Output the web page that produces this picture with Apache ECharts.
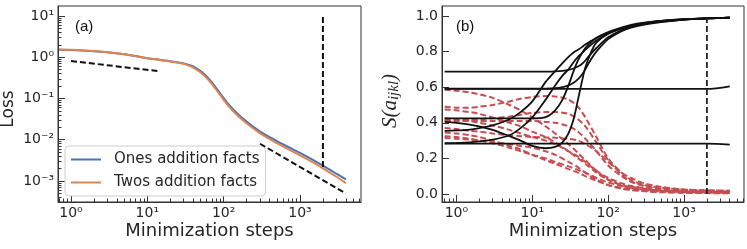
<!DOCTYPE html>
<html><head><meta charset="utf-8">
<script src="https://cdn.jsdelivr.net/npm/echarts@6/dist/echarts.min.js"></script>
<style>html,body{margin:0;padding:0;background:#fff}#c{width:747px;height:249px}</style>
</head><body><div id="c"></div>
<script>
// ---------- data (a) ----------
const lossSteps = [0.7, 1, 2, 3, 5, 7, 10, 15, 20, 30, 40, 50, 60, 70, 80, 90, 100, 120, 150, 200, 300, 500, 700, 1000, 1500, 2000, 3000, 4000];
const onesLoss  = [1.52, 1.5, 1.4, 1.32, 1.18, 1.07, 0.95, 0.86, 0.8, 0.71, 0.6, 0.46, 0.34, 0.245, 0.178, 0.133, 0.102, 0.067, 0.044, 0.0275, 0.0158, 0.0093, 0.0067, 0.0048, 0.0032, 0.00235, 0.0015, 0.0011];
const twosLoss  = [1.54, 1.51, 1.41, 1.32, 1.18, 1.06, 0.94, 0.85, 0.79, 0.69, 0.56, 0.425, 0.313, 0.225, 0.163, 0.122, 0.093, 0.061, 0.04, 0.025, 0.0143, 0.0083, 0.0059, 0.0042, 0.0028, 0.00203, 0.00127, 0.00089];
const refEarlySteps = [1, 14];
const refEarlyLoss  = [0.81, 0.46];
const refLateSteps  = [300, 4000];
const refLateLoss   = [0.008, 0.0005];
const markerStep = 2000;
const markerLossRange = [0.0022, 10];

// ---------- data (b) ----------
const blackSteps = [0.7, 1, 1.5, 2, 3, 5, 7, 10, 15, 20, 25, 30, 35, 40, 45, 50, 60, 70, 100, 150, 200, 300, 500, 1000, 2000, 4000];
const blackA = [0.355, 0.357, 0.362, 0.37, 0.385, 0.42, 0.46, 0.52, 0.63, 0.69, 0.735, 0.77, 0.795, 0.81, 0.825, 0.84, 0.86, 0.878, 0.91, 0.935, 0.95, 0.962, 0.972, 0.981, 0.986, 0.99];
const blackB = [0.285, 0.287, 0.29, 0.295, 0.305, 0.33, 0.37, 0.43, 0.53, 0.61, 0.665, 0.7, 0.74, 0.77, 0.79, 0.81, 0.84, 0.862, 0.9, 0.93, 0.945, 0.96, 0.97, 0.98, 0.986, 0.99];
const blackC = [0.425, 0.425, 0.425, 0.425, 0.425, 0.425, 0.425, 0.425, 0.432, 0.47, 0.53, 0.61, 0.69, 0.75, 0.79, 0.82, 0.855, 0.875, 0.905, 0.93, 0.945, 0.96, 0.972, 0.982, 0.987, 0.99];
const blackD = [0.405, 0.4, 0.39, 0.38, 0.36, 0.325, 0.3, 0.27, 0.257, 0.265, 0.29, 0.34, 0.42, 0.53, 0.63, 0.71, 0.8, 0.85, 0.9, 0.93, 0.945, 0.96, 0.972, 0.982, 0.987, 0.99];
const blackE = [0.687, 0.687, 0.687, 0.687, 0.687, 0.687, 0.687, 0.687, 0.687, 0.689, 0.692, 0.697, 0.705, 0.716, 0.73, 0.75, 0.79, 0.82, 0.88, 0.92, 0.94, 0.955, 0.968, 0.98, 0.986, 0.99];
const blackF = [0.592, 0.592, 0.592, 0.592, 0.592, 0.592, 0.592, 0.592, 0.592, 0.594, 0.6, 0.61, 0.625, 0.645, 0.67, 0.7, 0.76, 0.8, 0.87, 0.915, 0.935, 0.952, 0.966, 0.98, 0.986, 0.99];
const blackG = [0.59, 0.59, 0.59, 0.59, 0.59, 0.59, 0.59, 0.59, 0.59, 0.59, 0.59, 0.59, 0.59, 0.59, 0.59, 0.59, 0.59, 0.59, 0.59, 0.59, 0.59, 0.59, 0.59, 0.59, 0.59, 0.605];
const blackH = [0.283, 0.283, 0.283, 0.283, 0.283, 0.283, 0.283, 0.283, 0.283, 0.283, 0.283, 0.283, 0.283, 0.283, 0.283, 0.283, 0.283, 0.283, 0.283, 0.283, 0.283, 0.283, 0.283, 0.283, 0.283, 0.277];
const redSteps = [0.7, 1, 1.5, 2, 3, 5, 7, 10, 15, 20, 30, 40, 50, 70, 100, 150, 200, 300, 500, 1000, 2000, 4000];
const red1  = [0.585, 0.58, 0.57, 0.56, 0.54, 0.5, 0.47, 0.43, 0.38, 0.34, 0.28, 0.23, 0.19, 0.13, 0.08, 0.05, 0.035, 0.025, 0.018, 0.012, 0.01, 0.008];
const red2  = [0.49, 0.485, 0.485, 0.49, 0.5, 0.52, 0.535, 0.545, 0.55, 0.548, 0.53, 0.49, 0.43, 0.32, 0.2, 0.12, 0.08, 0.05, 0.035, 0.025, 0.02, 0.018];
const red3  = [0.475, 0.47, 0.46, 0.45, 0.43, 0.4, 0.38, 0.35, 0.32, 0.29, 0.24, 0.2, 0.17, 0.12, 0.08, 0.05, 0.04, 0.03, 0.02, 0.015, 0.012, 0.01];
const red4  = [0.415, 0.415, 0.415, 0.42, 0.425, 0.435, 0.445, 0.455, 0.46, 0.46, 0.45, 0.42, 0.38, 0.29, 0.19, 0.11, 0.07, 0.045, 0.03, 0.02, 0.015, 0.012];
const red5  = [0.41, 0.41, 0.41, 0.41, 0.41, 0.41, 0.41, 0.41, 0.405, 0.4, 0.38, 0.35, 0.31, 0.24, 0.16, 0.1, 0.07, 0.045, 0.03, 0.02, 0.015, 0.012];
const red6  = [0.37, 0.365, 0.355, 0.35, 0.34, 0.33, 0.325, 0.32, 0.318, 0.316, 0.31, 0.3, 0.28, 0.24, 0.18, 0.12, 0.09, 0.06, 0.04, 0.025, 0.02, 0.018];
const red7  = [0.345, 0.34, 0.33, 0.32, 0.3, 0.27, 0.25, 0.22, 0.19, 0.17, 0.14, 0.12, 0.1, 0.075, 0.05, 0.035, 0.025, 0.018, 0.012, 0.008, 0.006, 0.005];
const red8  = [0.325, 0.32, 0.31, 0.3, 0.285, 0.26, 0.24, 0.22, 0.2, 0.18, 0.155, 0.135, 0.12, 0.09, 0.065, 0.045, 0.033, 0.022, 0.015, 0.01, 0.008, 0.006];
const red9  = [0.315, 0.31, 0.305, 0.3, 0.29, 0.28, 0.27, 0.26, 0.24, 0.22, 0.18, 0.15, 0.12, 0.08, 0.05, 0.03, 0.022, 0.015, 0.01, 0.007, 0.005, 0.004];
const red10 = [0.425, 0.42, 0.41, 0.4, 0.385, 0.36, 0.34, 0.32, 0.3, 0.28, 0.24, 0.21, 0.18, 0.13, 0.09, 0.06, 0.045, 0.032, 0.022, 0.015, 0.012, 0.01];
const sMarkerStep = 2000;
const sMarkerRange = [0, 0.99];

// ---------- ticks ----------
const stepTickExps = [0, 1, 2, 3];
const lossTickExps = [-3, -2, -1, 0, 1];
const sTicks = [0, 0.2, 0.4, 0.6, 0.8, 1.0];

const blackCurves = [blackA, blackB, blackC, blackD, blackE, blackF, blackG, blackH];
const redCurves = [red1, red2, red3, red4, red5, red6, red7, red8, red9, red10];

// ---------- helpers ----------
const L = Math.log10;
const SUP = {'-':'\u207B','0':'\u2070','1':'\u00B9','2':'\u00B2','3':'\u00B3'};
const pow10 = v => '10' + String(Math.round(v)).split('').map(c => SUP[c]).join('');
function minors(lo, hi) {
  const out = [];
  for (let n = Math.floor(lo) - 1; n <= Math.ceil(hi); n++)
    for (let k = 2; k <= 9; k++) { const v = n + L(k); if (v > lo && v < hi) out.push(v); }
  return out;
}
const FONT = 'DejaVu Sans';
const TXT = '#262626';
const AX = '#333333';
const X1 = [-0.17, 3.80], Y1 = [-3.509, 1.242];
const X2 = [-0.19, 3.79], Y2 = [-0.045, 1.056];

function mainAxis(grid, ext, vals, fmt, pos) {
  return {
    type: 'value', gridIndex: grid, min: ext[0], max: ext[1], position: pos,
    axisLine: {show: true, onZero: false, lineStyle: {color: AX, width: 1}},
    axisTick: {show: true, inside: true, length: 7, customValues: vals, lineStyle: {color: AX, width: 1}},
    axisLabel: {show: true, customValues: vals, formatter: fmt, fontFamily: FONT, fontSize: 14, color: TXT, margin: 4},
    splitLine: {show: false}
  };
}
function minorAxis(grid, ext, vals, pos) {
  return {
    type: 'value', gridIndex: grid, min: ext[0], max: ext[1], position: pos,
    axisLine: {show: false, onZero: false},
    axisTick: {show: true, inside: true, length: 3.5, customValues: vals, lineStyle: {color: AX, width: 1}},
    axisLabel: {show: false},
    splitLine: {show: false}
  };
}

const series = [];
function line(xi, yi, xs, ys, tx, ty, style, name, z) {
  series.push({
    type: 'line', name: name, xAxisIndex: xi, yAxisIndex: yi, symbol: 'none',
    smooth: style.smooth || false,
    data: xs.map((x, i) => [tx(x), ty(ys[i])]), lineStyle: style.ls, itemStyle: {color: style.ls.color}, z: z || 2, silent: true
  });
}
const id = v => v;
// (a)
line(0, 0, lossSteps, onesLoss, L, L, {smooth: 0.3, ls: {color: '#4c72b0', width: 2}}, 'Ones addition facts', 3);
line(0, 0, lossSteps, twosLoss, L, L, {smooth: 0.3, ls: {color: '#dd8452', width: 2}}, 'Twos addition facts', 4);
line(0, 0, refEarlySteps, refEarlyLoss, L, L, {ls: {color: '#111', width: 2, type: [6, 3]}}, undefined, 5);
line(0, 0, refLateSteps, refLateLoss, L, L, {ls: {color: '#111', width: 2, type: [6, 3]}}, undefined, 5);
line(0, 0, [markerStep, markerStep], markerLossRange, L, L, {ls: {color: '#111', width: 2, type: [6, 3]}}, undefined, 5);
// (b)
redCurves.forEach(c => line(2, 2, redSteps, c, L, id, {smooth: 0.3, ls: {color: '#c44e52', width: 2, type: [6, 3]}}, undefined, 3));
blackCurves.forEach(c => line(2, 2, blackSteps, c, L, id, {smooth: 0.3, ls: {color: '#111', width: 1.8}}, undefined, 4));
line(2, 2, [sMarkerStep, sMarkerStep], sMarkerRange, L, id, {ls: {color: '#222', width: 1.8, type: [6, 3]}}, undefined, 5);

const option = {
  animation: false,
  grid: [
    {left: 58, top: 6, width: 303, height: 196, show: true, borderColor: AX, borderWidth: 1, backgroundColor: 'transparent'},
    {left: 442, top: 6, width: 302, height: 196, show: true, borderColor: AX, borderWidth: 1, backgroundColor: 'transparent'}
  ],
  xAxis: [
    mainAxis(0, X1, stepTickExps, pow10, 'bottom'),
    minorAxis(0, X1, minors(X1[0], X1[1]), 'bottom'),
    mainAxis(1, X2, stepTickExps, pow10, 'bottom'),
    minorAxis(1, X2, minors(X2[0], X2[1]), 'bottom')
  ],
  yAxis: [
    mainAxis(0, Y1, lossTickExps, pow10, 'left'),
    minorAxis(0, Y1, minors(Y1[0], Y1[1]), 'left'),
    mainAxis(1, Y2, sTicks, v => v.toFixed(1), 'left'),
  ],
  legend: {
    data: ['Ones addition facts', 'Twos addition facts'],
    orient: 'vertical', left: 65, top: 146, itemWidth: 30, itemHeight: 14, itemGap: 8,
    itemStyle: {opacity: 0},
    padding: [6, 6, 6, 5], backgroundColor: 'rgba(255,255,255,0.85)', borderColor: '#cccccc', borderWidth: 1, borderRadius: 4,
    textStyle: {fontFamily: FONT, fontSize: 15, color: TXT, padding: [0, 0, 0, 8]}
  },
  graphic: [
    {type: 'text', left: 75, top: 19, style: {text: '(a)', font: '15px "Liberation Sans"', fill: '#111'}},
    {type: 'text', left: 456, top: 19, style: {text: '(b)', font: '15px "Liberation Sans"', fill: '#111'}},
    {type: 'text', x: 209.5, y: 231, style: {text: 'Minimization steps', font: '18px "DejaVu Sans"', fill: TXT, align: 'center', verticalAlign: 'middle'}},
    {type: 'text', x: 593, y: 231, style: {text: 'Minimization steps', font: '18px "DejaVu Sans"', fill: TXT, align: 'center', verticalAlign: 'middle'}},
    {type: 'text', x: 9, y: 109, rotation: Math.PI / 2, style: {text: 'Loss', font: '17px "DejaVu Sans"', fill: TXT, align: 'center', verticalAlign: 'middle'}},
    {type: 'text', x: 390, y: 101, rotation: Math.PI / 2, style: {
      text: '{m|S(a}{s|ijkl}{m|)}', fill: TXT, align: 'center', verticalAlign: 'middle',
      rich: {m: {font: 'italic 21px "Liberation Serif"', fill: TXT}, s: {font: 'italic 15px "Liberation Serif"', fill: TXT, padding: [8, 0, 0, 0]}}
    }}
  ],
  series: series
};
const chart = echarts.init(document.getElementById('c'), null, {renderer: 'canvas'});
chart.setOption(option);
</script></body></html>
